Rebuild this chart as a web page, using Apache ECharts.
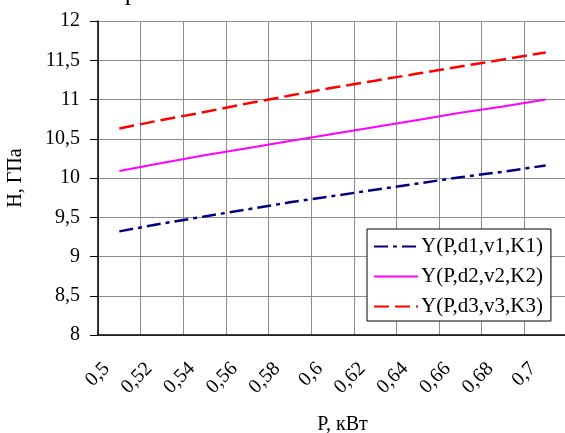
<!DOCTYPE html>
<html>
<head>
<meta charset="utf-8">
<script src="https://cdn.jsdelivr.net/npm/echarts@6/dist/echarts.min.js"></script>
<style>
  html, body { margin: 0; padding: 0; background: #fff; }
  #chart { width: 565px; height: 433px; }
</style>
</head>
<body>
<div id="chart"></div>
<script>
// P, кВт
const powers = ["0,5", "0,52", "0,54", "0,56", "0,58", "0,6", "0,62", "0,64", "0,66", "0,68", "0,7"];
// H, ГПа
const y1 = [9.32, 9.42, 9.51, 9.60, 9.69, 9.77, 9.85, 9.93, 10.01, 10.08, 10.16];
const y2 = [10.09, 10.19, 10.29, 10.38, 10.47, 10.56, 10.65, 10.74, 10.83, 10.91, 11.00];
const y3 = [10.63, 10.74, 10.84, 10.95, 11.05, 11.15, 11.24, 11.33, 11.42, 11.51, 11.60];
const seriesNames = ["Y(P,d1,v1,K1)", "Y(P,d2,v2,K2)", "Y(P,d3,v3,K3)"];

const font = "Liberation Serif";
const myChart = echarts.init(document.getElementById("chart"));

const option = {
  animation: false,
  textStyle: { fontFamily: font, color: "#000" },
  graphic: [
    {
      // обрезанный заголовок сверху
      type: "text",
      left: -4,
      top: -20,
      style: { text: "е      на лазера:", font: "26px " + font, fill: "#000" }
    }
  ],
  grid: { left: 98, top: 21, width: 469, height: 314, outerBoundsMode: "none" },
  legend: {
    orient: "vertical",
    left: 367,
    top: 229,
    padding: [7, 8, 4, 6],
    backgroundColor: "#fff",
    borderColor: "#000",
    borderWidth: 1,
    borderRadius: 0,
    itemWidth: 44,
    itemHeight: 14,
    itemGap: 9,
    itemStyle: { opacity: 0 },
    textStyle: { fontFamily: font, fontSize: 21, lineHeight: 21, color: "#000", padding: [0, 0, 0, -2] },
    data: seriesNames
  },
  xAxis: {
    type: "category",
    data: powers,
    boundaryGap: true,
    name: "P, кВт",
    nameLocation: "middle",
    nameGap: 80,
    nameTextStyle: { fontFamily: font, fontSize: 20, color: "#000", padding: [0, 0, 0, 20] },
    axisLine: { lineStyle: { color: "#000", width: 1.5 } },
    axisTick: { length: 8, lineStyle: { color: "#000" } },
    axisLabel: {
      rotate: 45,
      margin: 18,
      fontFamily: font,
      fontSize: 20,
      color: "#000",
      padding: [0, 18, 0, 0]
    },
    splitLine: { show: true, lineStyle: { color: "#8c8c8c", width: 1 } }
  },
  yAxis: {
    type: "value",
    min: 8,
    max: 12,
    interval: 0.5,
    name: "H, ГПа",
    nameLocation: "middle",
    nameGap: 72,
    nameTextStyle: { fontFamily: font, fontSize: 20, color: "#000" },
    axisLine: { show: true, lineStyle: { color: "#000", width: 1.5 } },
    axisTick: { show: true, length: 8, lineStyle: { color: "#000" } },
    axisLabel: {
      margin: 18,
      fontFamily: font,
      fontSize: 20,
      color: "#000",
      formatter: (v) => String(v).replace(".", ",")
    },
    splitLine: { show: true, lineStyle: { color: "#8c8c8c", width: 1 } }
  },
  series: [
    {
      name: seriesNames[0],
      type: "line",
      data: y1,
      symbol: "none",
      color: "#000080",
      lineStyle: { color: "#000080", width: 2.5, type: [14, 5, 4, 5] }
    },
    {
      name: seriesNames[1],
      type: "line",
      data: y2,
      symbol: "none",
      color: "#ff00ff",
      lineStyle: { color: "#ff00ff", width: 2 }
    },
    {
      name: seriesNames[2],
      type: "line",
      data: y3,
      symbol: "none",
      color: "#ff0000",
      lineStyle: { color: "#ff0000", width: 2.5, type: [15, 6] }
    }
  ]
};

myChart.setOption(option);
</script>
</body>
</html>
